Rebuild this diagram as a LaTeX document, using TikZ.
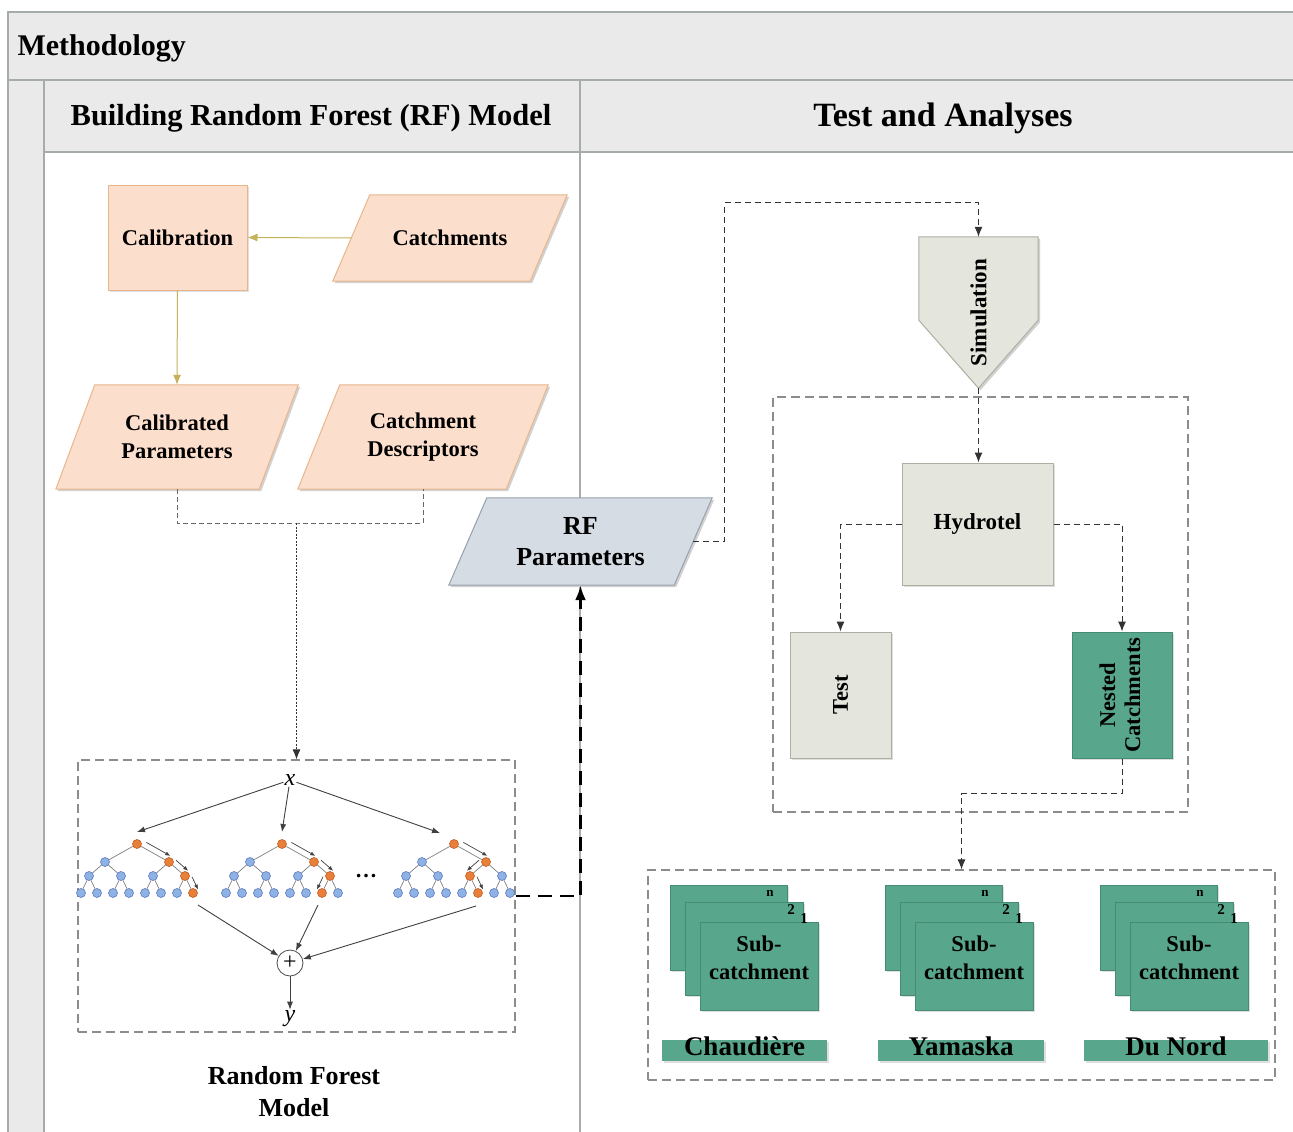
\documentclass[tikz,border=0pt]{standalone}
\usepackage{fontspec}
\setmainfont{Liberation Serif}
\usetikzlibrary{arrows.meta,calc,backgrounds,shadows}
\pgfdeclarelayer{bgzero}
\pgfdeclarelayer{bgone}
\pgfsetlayers{bgzero,bgone,main}

\definecolor{hdr}{RGB}{234,234,234}
\definecolor{hdrline}{RGB}{165,172,170}
\definecolor{peach}{RGB}{252,222,205}
\definecolor{peachline}{RGB}{232,182,140}
\definecolor{olive}{RGB}{198,178,88}
\definecolor{rfblue}{RGB}{214,220,228}
\definecolor{rfline}{RGB}{150,160,172}
\definecolor{stone}{RGB}{228,229,220}
\definecolor{stoneline}{RGB}{172,175,162}
\definecolor{tealA}{RGB}{88,166,140}
\definecolor{tealline}{RGB}{70,140,115}
\definecolor{leafblue}{RGB}{142,178,228}
\definecolor{leafline}{RGB}{90,125,190}
\definecolor{leaforange}{RGB}{232,128,58}
\definecolor{leaforline}{RGB}{190,95,35}

\newcommand\paraback[4]{%
  \fill[black!18] ([xshift=#2pt+2pt,yshift=-2pt]#1.north west) -- ([xshift=#2pt+2pt,yshift=-2pt]#1.north east) -- ([xshift=-#2pt+2pt,yshift=-2pt]#1.south east) -- ([xshift=-#2pt+2pt,yshift=-2pt]#1.south west) -- cycle;
  \filldraw[fill=#3,draw=#4,line width=1pt] ([xshift=#2pt]#1.north west) -- ([xshift=#2pt]#1.north east) -- ([xshift=-#2pt]#1.south east) -- ([xshift=-#2pt]#1.south west) -- cycle;}

\tikzset{
 hfont/.style={font=\bfseries\fontsize{30}{34}\selectfont},
 bodyfont/.style={font=\bfseries\fontsize{22.5}{28}\selectfont},
 plainbox/.style={rectangle, draw, line width=1pt, align=center, inner sep=3pt, bodyfont,
   drop shadow={opacity=0.25, shadow xshift=2pt, shadow yshift=-2pt}},
 peachbox/.style={plainbox, fill=peach, draw=peachline},
 stonebox/.style={plainbox, fill=stone, draw=stoneline},
 tealbox/.style={plainbox, fill=tealA, draw=tealline},
 paratext/.style={rectangle, align=center, inner sep=2pt, bodyfont},
 conn/.style={draw=black!80, line width=1pt, dash pattern=on 6pt off 4pt, -{Latex[length=10pt,width=8pt]}},
 olivearrow/.style={draw=olive, line width=1pt, -{Latex[length=10pt,width=8pt]}},
 dbox/.style={rectangle, draw=black!45, line width=1.2pt, dash pattern=on 9pt off 5pt, inner sep=0pt},
 bnode/.style={circle, minimum size=9pt, inner sep=0pt, fill=leafblue, draw=leafline, line width=0.6pt},
 onode/.style={circle, minimum size=9pt, inner sep=0pt, fill=leaforange, draw=leaforline, line width=0.6pt},
 treeedge/.style={draw=black!50, line width=0.7pt},
 rfarrow/.style={draw=black!75, line width=0.9pt, -{Latex[length=8pt,width=6pt]}},
 smallarrow/.style={draw=black!75, line width=0.7pt, -{Latex[length=5pt,width=4pt]}},
 barlabel/.style={rectangle, fill=tealA, minimum height=21pt, inner sep=0pt, text height=10pt, text depth=0pt,
   font=\bfseries\fontsize{27}{27}\selectfont, drop shadow={opacity=0.25, shadow xshift=2pt, shadow yshift=-2pt}},
 numlabel/.style={font=\bfseries\fontsize{15}{15}\selectfont, inner sep=0pt}
}

\begin{document}
\begin{tikzpicture}[x=1pt,y=-1pt]
\useasboundingbox (0,0) rectangle (1293,1132);
\clip (0,0) rectangle (1293,1132);

\begin{pgfonlayer}{bgzero}
 \fill[white] (0,0) rectangle (1293,1132);
 \filldraw[fill=hdr, draw=hdrline, line width=1.3pt] (8,12) rectangle (1310,80);
 \filldraw[fill=hdr, draw=hdrline, line width=1.3pt] (8,80) rectangle (44,1150);
 \filldraw[fill=hdr, draw=hdrline, line width=1.3pt] (44,80) rectangle (1310,152);
 \draw[hdrline, line width=1.3pt] (580,80) -- (580,1150);
\end{pgfonlayer}

% headers
\node[hfont, anchor=west] (meth) at (14,48) {Methodology};
\node[hfont, font=\bfseries\fontsize{30.5}{34}\selectfont] (laneA) at (311,118) {Building Random Forest (RF) Model};
\node[hfont, font=\bfseries\fontsize{34}{38}\selectfont] (laneB) at (943,118) {Test and Analyses};

% left lane nodes
\node[peachbox, minimum width=139pt, minimum height=105pt] (cal) at (177.5,237.5) {Calibration};
\node[paratext, minimum width=197pt, minimum height=86pt] (cat) at (450,238) {Catchments};
\node[paratext, minimum width=203pt, minimum height=104pt] (calp) at (177,437) {Calibrated\\Parameters};
\node[paratext, minimum width=208pt, minimum height=104pt] (catd) at (423,437) {Catchment\\Descriptors};
\node[paratext, minimum width=225pt, minimum height=87pt, font=\bfseries\fontsize{26}{31}\selectfont] (rfp) at (580.5,541.5) {RF\\Parameters};

% right lane nodes
\node[rectangle, minimum width=119pt, minimum height=151pt, inner sep=0pt, bodyfont, font=\bfseries\fontsize{23}{28}\selectfont] (sim) at (978.5,312.5) {\rotatebox{90}{Simulation}};
\node[stonebox, minimum width=151pt, minimum height=122pt, font=\bfseries\fontsize{23}{28}\selectfont] (hyd) at (977.5,524) {Hydrotel};
\node[stonebox, minimum width=101pt, minimum height=126pt] (test) at (840.5,695) {\rotatebox{90}{Test}};
\node[tealbox, minimum width=100pt, minimum height=126pt, inner sep=0pt] (nest) at (1122,695) {\rotatebox{90}{\begin{tabular}{@{}c@{}}Nested\\[-3pt]Catchments\end{tabular}}};
\node[dbox, minimum width=415pt, minimum height=415pt] (testbox) at (980.5,604.5) {};
\node[dbox, minimum width=627pt, minimum height=210pt] (subbox) at (961.5,975) {};

% shapes behind parallelograms and simulation
\begin{pgfonlayer}{bgone}
 \paraback{cat}{18.5}{peach}{peachline}
 \paraback{calp}{19.5}{peach}{peachline}
 \paraback{catd}{21}{peach}{peachline}
 \paraback{rfp}{19}{rfblue}{rfline}
 \fill[black!18] ([xshift=2pt,yshift=-2pt]sim.north west) -- ([xshift=2pt,yshift=-2pt]sim.north east) -- ([xshift=2pt,yshift=66pt]sim.south east) -- ([xshift=2pt,yshift=-2pt]sim.south) -- ([xshift=2pt,yshift=66pt]sim.south west) -- cycle;
 \filldraw[fill=stone, draw=stoneline, line width=1pt] (sim.north west) -- (sim.north east) -- ([yshift=68pt]sim.south east) -- (sim.south) -- ([yshift=68pt]sim.south west) -- cycle;
\end{pgfonlayer}

% subcatchment stacks
\foreach \s/\bx/\lab/\lx/\lw in {1/670/Chaudière/744.5/165, 2/885/Yamaska/961/166, 3/1100/Du Nord/1176/184}{
  \node[tealbox, minimum width=117pt, minimum height=85pt] (s\s-c) at (\bx+58.5,927.5) {};
  \node[tealbox, minimum width=118pt, minimum height=93pt] (s\s-b) at (\bx+74,948.5) {};
  \node[tealbox, minimum width=118pt, minimum height=88pt] (s\s-a) at (\bx+89,966) {};
  \node[font=\bfseries\fontsize{22.5}{28}\selectfont, align=center, inner sep=0pt] (s\s-t) at (\bx+89,958) {Sub-\\catchment};
  \node[numlabel, font=\bfseries\fontsize{13}{13}\selectfont] (s\s-n) at (\bx+100,893) {n};
  \node[numlabel] (s\s-two) at (\bx+121,910) {2};
  \node[numlabel] (s\s-one) at (\bx+134,919) {1};
  \node[barlabel, minimum width=\lw pt] (s\s-l) at (\lx,1050) {\lab};
}

% random forest box
\node[dbox, minimum width=437pt, minimum height=272pt] (rfbox) at (296.5,896) {};
\node[font=\itshape\fontsize{24}{24}\selectfont, inner sep=1pt] (xlab) at (290,780) {x};
\node[font=\itshape\fontsize{24}{24}\selectfont, inner sep=1pt] (ylab) at (290,1019) {y};
\node[circle, draw=black!70, line width=0.8pt, minimum size=26pt, inner sep=0pt, font=\fontsize{24}{24}\selectfont] (plus) at (290,963) {+};
\node[font=\bfseries\fontsize{22}{22}\selectfont, anchor=base, inner sep=0pt] (dots) at (366,877) {…};
\node[font=\bfseries\fontsize{26}{32}\selectfont, align=center] (rfm) at (294,1092) {Random Forest\\Model};

% trees
\foreach \k/\rx/\ob/\oc/\od in {1/137/3/7/15, 2/282/3/7/14, 3/454/3/6/13}{
  \foreach \i/\dx/\yy in {1/0/844, 2/-32/862, 3/32/862, 4/-48/876, 5/-16/876, 6/16/876, 7/48/876,
      8/-56/893, 9/-40/893, 10/-24/893, 11/-8/893, 12/8/893, 13/24/893, 14/40/893, 15/56/893}{
    \pgfmathtruncatemacro\isor{(\i==1)||(\i==\ob)||(\i==\oc)||(\i==\od)}
    \ifnum\isor=1
      \node[onode] (t\k-\i) at (\rx+\dx,\yy) {};
    \else
      \node[bnode] (t\k-\i) at (\rx+\dx,\yy) {};
    \fi
  }
  \foreach \i in {2,...,15}{
    \pgfmathtruncatemacro\p{\i/2}
    \draw[treeedge] (t\k-\p) -- (t\k-\i);
  }
}
\foreach \k/\a/\b/\ang in {1/1/3/90, 1/3/7/90, 1/7/15/90, 2/1/3/90, 2/3/7/90, 2/7/14/-90, 3/1/3/90, 3/3/6/-90, 3/6/13/90}{
  \draw[smallarrow] ($(t\k-\a)!0.2!(t\k-\b)!6pt!\ang:(t\k-\b)$) -- ($(t\k-\a)!0.95!(t\k-\b)!6pt!\ang:(t\k-\b)$);
}
\draw[rfarrow] (xlab) -- ($(t1-1)+(0,-12)$);
\draw[rfarrow] (xlab) -- ($(t2-1)+(0,-12)$);
\draw[rfarrow] (xlab) -- ($(t3-1)+(-14,-11)$);
\draw[rfarrow] ($(t1-15)+(5,12)$) -- (plus);
\draw[rfarrow] ($(t2-14)+(-4,12)$) -- (plus);
\draw[rfarrow] ($(t3-13)+(-2,13)$) -- (plus);
\draw[rfarrow] (plus) -- (ylab);

% connectors left lane
\draw[olivearrow] (cat.west) -- (cal.east);
\draw[olivearrow] (cal.south) -- (calp.north);
\coordinate (jn) at (296.5,523);
\draw[draw=black!60, line width=1pt, dash pattern=on 5pt off 3pt] (calp.south) |- (jn) -| (catd.south);
\draw[draw=black!80, line width=0.9pt, dash pattern=on 2pt off 1.5pt, -{Latex[length=10pt,width=8pt]}] (jn) -- (rfbox.north);
\draw[draw=black, line width=2.8pt, dash pattern=on 14pt off 8pt, -{Latex[length=15pt,width=11pt]}] (rfbox.east) -| (rfp.south);

% connectors right lane
\draw[conn] (rfp.east) -- ++(31,0) |- ([yshift=34pt]sim.north) -- (sim.north);
\draw[conn] (sim.south) -- (sim.south |- hyd.north);
\draw[conn] (hyd.west) -| (test.north);
\draw[conn] (hyd.east) -| (nest.north);
\draw[conn] (nest.south) -- ++(0,35) -| (subbox.north);
\end{tikzpicture}
\end{document}
